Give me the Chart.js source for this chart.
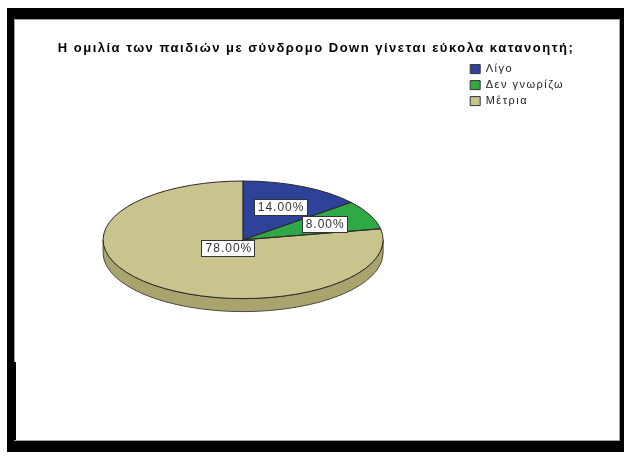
<!DOCTYPE html>
<html lang="el">
<head>
<meta charset="utf-8">
<title>Κατανόηση ομιλίας</title>
<script src="https://cdn.jsdelivr.net/npm/chart.js@4.4.1/dist/chart.umd.min.js"></script>
<style>
  body { margin: 0; background: #fff; }
  .frame { position: absolute; left: 7px; top: 8px; width: 617px; height: 444px; background: #000; }
  .sheet { position: absolute; left: 14px; top: 19px; width: 604px; height: 420px; background: #fff; border: 1px solid #a0a0a0; }
  .edge { position: absolute; left: 14px; top: 362px; width: 2px; height: 78px; background: #000; }
  #pieChart { position: absolute; left: 0; top: 0; }
</style>
</head>
<body>
<div class="frame"></div>
<div class="sheet"></div>
<div class="edge"></div>
<canvas id="pieChart" width="624" height="456"></canvas>
<script>
const titleText = 'Η ομιλία των παιδιών με σύνδρομο Down γίνεται εύκολα κατανοητή;';
const categories = ['Λίγο', 'Δεν γνωρίζω', 'Μέτρια'];
const percents = [14, 8, 78];
const sliceColors = ['#2f429a', '#2fa846', '#c9c38e'];
const sideColors = ['#26357a', '#228034', '#a9a46e'];

// the flat pie is squashed into an ellipse and given a rim underneath
const tilt = 0.42;
const depth = 13;
const labelRadius = [0.62, 0.64, 0.17];

Chart.defaults.font.family = '"Liberation Sans", Arial, sans-serif';

function centreOf(arcs) {
  return { cx: arcs[0].x, cy: arcs[0].y, r: arcs[0].outerRadius };
}

const spacing = {
  id: 'spacing',
  beforeUpdate(chart) { chart.ctx.letterSpacing = '1.5px'; },
  beforeDraw(chart) { chart.ctx.letterSpacing = '1.5px'; }
};

// empty box on the far right so the legend sits further in
const legendGap = {
  id: 'legendGap',
  beforeInit(chart) {
    Chart.layouts.addBox(chart, {
      position: 'right',
      weight: 1500,
      fullSize: false,
      options: {},
      left: 0, top: 0, right: 0, bottom: 0, width: 0, height: 0,
      isHorizontal() { return false; },
      update(maxWidth, maxHeight) {
        this.width = 37;
        this.height = maxHeight;
      },
      draw() {}
    });
  }
};

const pie3d = {
  id: 'pie3d',
  beforeDatasetsDraw(chart) {
    const ctx = chart.ctx;
    const arcs = chart.getDatasetMeta(0).data;
    const { cx, cy, r } = centreOf(arcs);
    // rim: only the front half of a slice can be seen
    arcs.forEach((arc, i) => {
      const s = Math.max(arc.startAngle, 0);
      const e = Math.min(arc.endAngle, Math.PI);
      if (e <= s) return;
      ctx.beginPath();
      ctx.ellipse(cx, cy, r, r * tilt, 0, s, e);
      ctx.ellipse(cx, cy + depth, r, r * tilt, 0, e, s, true);
      ctx.closePath();
      ctx.fillStyle = sideColors[i];
      ctx.fill();
      ctx.strokeStyle = '#4a4a3a';
      ctx.lineWidth = 1;
      ctx.stroke();
    });
    ctx.save();
    ctx.translate(cx, cy);
    ctx.scale(1, tilt);
    ctx.translate(-cx, -cy);
  },
  afterDatasetsDraw(chart) {
    const ctx = chart.ctx;
    ctx.restore();
    const arcs = chart.getDatasetMeta(0).data;
    const { cx, cy, r } = centreOf(arcs);

    // slice outlines
    ctx.strokeStyle = '#2a2a2a';
    ctx.lineWidth = 1;
    arcs.forEach(arc => {
      ctx.beginPath();
      ctx.moveTo(cx, cy);
      ctx.ellipse(cx, cy, r, r * tilt, 0, arc.startAngle, arc.endAngle);
      ctx.closePath();
      ctx.stroke();
    });

    // percentage boxes
    ctx.font = '12px "Liberation Sans", Arial, sans-serif';
    ctx.letterSpacing = '1px';
    ctx.textAlign = 'center';
    ctx.textBaseline = 'middle';
    arcs.forEach((arc, i) => {
      const mid = (arc.startAngle + arc.endAngle) / 2;
      const x = cx + Math.cos(mid) * r * labelRadius[i];
      const y = cy + Math.sin(mid) * r * labelRadius[i] * tilt;
      const text = percents[i].toFixed(2) + '%';
      const w = Math.round(ctx.measureText(text).width + 6);
      const h = 16;
      const bx = Math.round(x - w / 2) + 0.5;
      const by = Math.round(y - h / 2) + 0.5;
      ctx.fillStyle = '#fff';
      ctx.fillRect(bx, by, w, h);
      ctx.strokeStyle = '#333';
      ctx.strokeRect(bx, by, w, h);
      ctx.fillStyle = '#333';
      ctx.fillText(text, x + 1, y + 1);
    });
  }
};

new Chart(document.getElementById('pieChart'), {
  type: 'pie',
  data: {
    labels: categories,
    datasets: [{
      data: percents,
      backgroundColor: sliceColors,
      borderWidth: 0,
      radius: 140
    }]
  },
  options: {
    responsive: false,
    animation: false,
    events: [],
    layout: { padding: { left: 21, right: 13, top: 0, bottom: 35 } },
    plugins: {
      title: {
        display: true,
        text: titleText,
        color: '#000',
        font: { size: 13, weight: 'bold' },
        padding: { top: 41, bottom: 2 }
      },
      legend: {
        position: 'right',
        align: 'start',
        fullSize: false,
        labels: {
          boxWidth: 10,
          boxHeight: 9,
          padding: 5,
          color: '#222',
          font: { size: 11 },
          generateLabels(chart) {
            const items = Chart.overrides.pie.plugins.legend.labels.generateLabels(chart);
            return items.map(item => Object.assign(item, { lineWidth: 1, strokeStyle: '#333' }));
          }
        }
      },
      tooltip: { enabled: false }
    }
  },
  plugins: [spacing, legendGap, pie3d]
});
</script>
</body>
</html>
